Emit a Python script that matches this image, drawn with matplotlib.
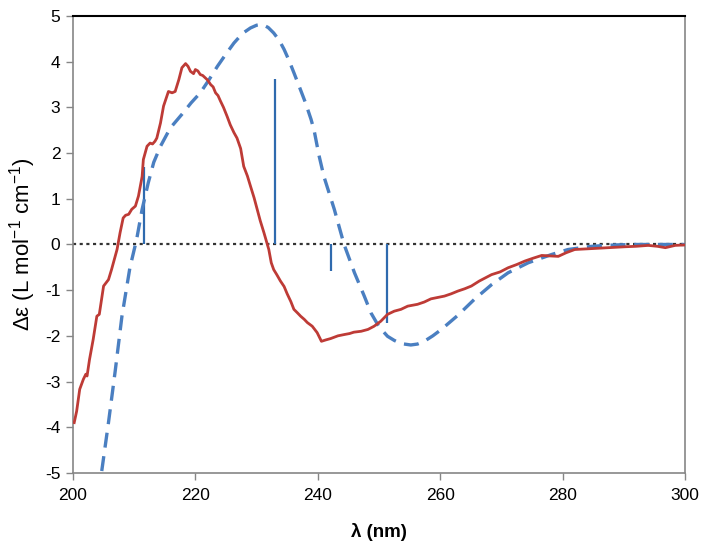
import matplotlib
matplotlib.use("Agg")
import matplotlib.pyplot as plt

plt.rcParams['font.family'] = ['Liberation Sans', 'DejaVu Sans']
plt.rcParams['mathtext.fontset'] = 'custom'
plt.rcParams['mathtext.rm'] = 'Liberation Sans'
plt.rcParams['mathtext.it'] = 'Liberation Sans'
plt.rcParams['axes.unicode_minus'] = False

# experimental CD spectrum (red, solid)
exp_wl = [200.2, 200.6, 201.1, 201.7, 202.1, 202.3, 202.7, 203.3, 203.9, 204.3, 205.0, 205.8,
          206.3, 207.2, 207.7, 208.2, 208.6, 209.1, 209.6, 210.2, 210.7, 211.3, 211.5, 212.1,
          212.6, 213.0, 213.4, 213.7, 214.3, 214.8, 215.6, 216.2, 216.7, 217.3, 217.8, 218.4,
          218.8, 219.2, 219.7, 220.0, 220.4, 220.8, 221.2, 221.6, 222.0, 222.5, 222.9, 223.3,
          223.7, 224.1, 224.6, 225.2, 225.7, 226.3, 226.8, 227.4, 227.9, 228.5, 229.0, 229.6,
          230.1, 230.6, 231.2, 232.0, 232.4, 232.8, 233.3, 233.9, 234.5, 235.0, 235.6, 236.1,
          236.7, 237.2, 237.8, 238.3, 239.1, 239.9, 240.6, 241.3, 242.1, 243.3, 244.4, 245.2,
          245.9, 247.1, 248.2, 249.2, 250.3, 251.4, 252.5, 253.6, 254.7, 256.3, 257.4, 258.5,
          259.6, 260.7, 261.8, 262.9, 264.0, 265.1, 266.4, 268.4, 269.8, 271.1, 272.5, 273.9,
          275.2, 276.6, 277.9, 279.3, 280.6, 282.0, 284.8, 287.5, 290.2, 292.0, 294.0, 295.5,
          296.8, 298.4, 300.0]
exp_de = [-3.90, -3.65, -3.17, -2.95, -2.84, -2.88, -2.52, -2.08, -1.57, -1.53, -0.91, -0.77,
          -0.55, -0.11, 0.26, 0.58, 0.64, 0.66, 0.77, 0.84, 1.06, 1.49, 1.86, 2.15,
          2.22, 2.20, 2.26, 2.33, 2.66, 3.03, 3.35, 3.32, 3.35, 3.61, 3.87, 3.96,
          3.90, 3.79, 3.74, 3.83, 3.80, 3.72, 3.70, 3.65, 3.60, 3.50, 3.45, 3.32,
          3.26, 3.14, 3.00, 2.80, 2.62, 2.45, 2.33, 2.10, 1.71, 1.50, 1.28, 1.02,
          0.77, 0.52, 0.26, -0.11, -0.40, -0.55, -0.66, -0.80, -0.92, -1.08, -1.25, -1.42,
          -1.50, -1.57, -1.64, -1.71, -1.79, -1.93, -2.12, -2.09, -2.06, -2.00, -1.97, -1.95,
          -1.92, -1.90, -1.86, -1.79, -1.68, -1.53, -1.46, -1.42, -1.35, -1.31, -1.26, -1.19,
          -1.16, -1.13, -1.08, -1.02, -0.97, -0.91, -0.80, -0.66, -0.60, -0.51, -0.44, -0.36,
          -0.30, -0.24, -0.25, -0.26, -0.18, -0.11, -0.09, -0.07, -0.05, -0.04, -0.02, -0.04,
          -0.07, -0.02, -0.01]

# calculated spectrum (blue, dashed)
calc_wl = [204.7, 205.8, 206.9, 208.0, 209.3, 210.4, 211.3, 212.3, 213.2, 214.3, 215.9, 217.8,
           219.3, 220.8, 222.2, 223.6, 225.0, 226.3, 227.7, 229.0, 230.0, 230.9, 231.9, 232.8,
           233.7, 234.5, 235.3, 236.1, 237.0, 238.0, 238.9, 239.4, 240.2, 241.0, 242.7, 244.3,
           246.0, 247.6, 248.7, 250.0, 251.4, 252.5, 253.6, 255.2, 256.3, 257.4, 258.8, 260.2,
           262.9, 265.6, 268.4, 271.1, 274.4, 278.2, 280.9, 284.8, 288.6, 291.9, 295.7, 300.0]
calc_de = [-4.96, -3.90, -2.77, -1.57, -0.51, 0.11, 0.77, 1.35, 1.80, 2.15, 2.55, 2.85,
           3.10, 3.32, 3.60, 3.90, 4.17, 4.41, 4.62, 4.74, 4.80, 4.82, 4.75, 4.63,
           4.47, 4.27, 4.03, 3.76, 3.45, 3.10, 2.74, 2.50, 1.95, 1.49, 0.77, 0.00,
           -0.62, -1.13, -1.50, -1.80, -2.01, -2.10, -2.17, -2.20, -2.18, -2.12, -2.00, -1.86,
           -1.55, -1.20, -0.88, -0.62, -0.40, -0.22, -0.11, -0.04, -0.01, 0.00, 0.00, 0.00]

# rotatory strengths (sticks)
stick_wl = [211.6, 233.0, 242.1, 251.3]
stick_de = [1.70, 3.62, -0.59, -1.72]

fig = plt.figure(figsize=(7.12, 5.55), dpi=100)
ax = fig.add_axes([0.1025, 0.148, 0.8595, 0.823])

ax.axhline(0, color='#333333', lw=1.6, linestyle=(0, (1.4, 1.6)), zorder=1)
ax.vlines(stick_wl, 0, stick_de, color='#2F6AAE', lw=1.6, zorder=2)
ax.plot(calc_wl, calc_de, color='#4A7FC1', lw=2.4, dashes=(4.5, 2.6), zorder=3)
ax.plot(exp_wl, exp_de, color='#BE3B36', lw=2.0, zorder=4)

ax.set_xlim(200, 300)
ax.set_ylim(-5, 5)
ax.set_xticks(range(200, 301, 20))
ax.set_yticks(range(-5, 6))

for s in ['left', 'bottom', 'right']:
    ax.spines[s].set_color('#868686')
    ax.spines[s].set_linewidth(1.2)
ax.spines['top'].set_color('black')
ax.spines['top'].set_linewidth(1.5)

ax.tick_params(axis='both', direction='out', length=5, width=1, color='#868686',
               labelsize=12.5, labelcolor='black', pad=4)
ax.tick_params(axis='x', pad=6)

ax.set_xlabel('λ (nm)', fontsize=13.5, fontweight='bold', labelpad=14)
ax.set_ylabel('Δε (L mol$^{-1}$ cm$^{-1}$)', fontsize=16, labelpad=5)

fig.savefig('out.png', dpi=100)
